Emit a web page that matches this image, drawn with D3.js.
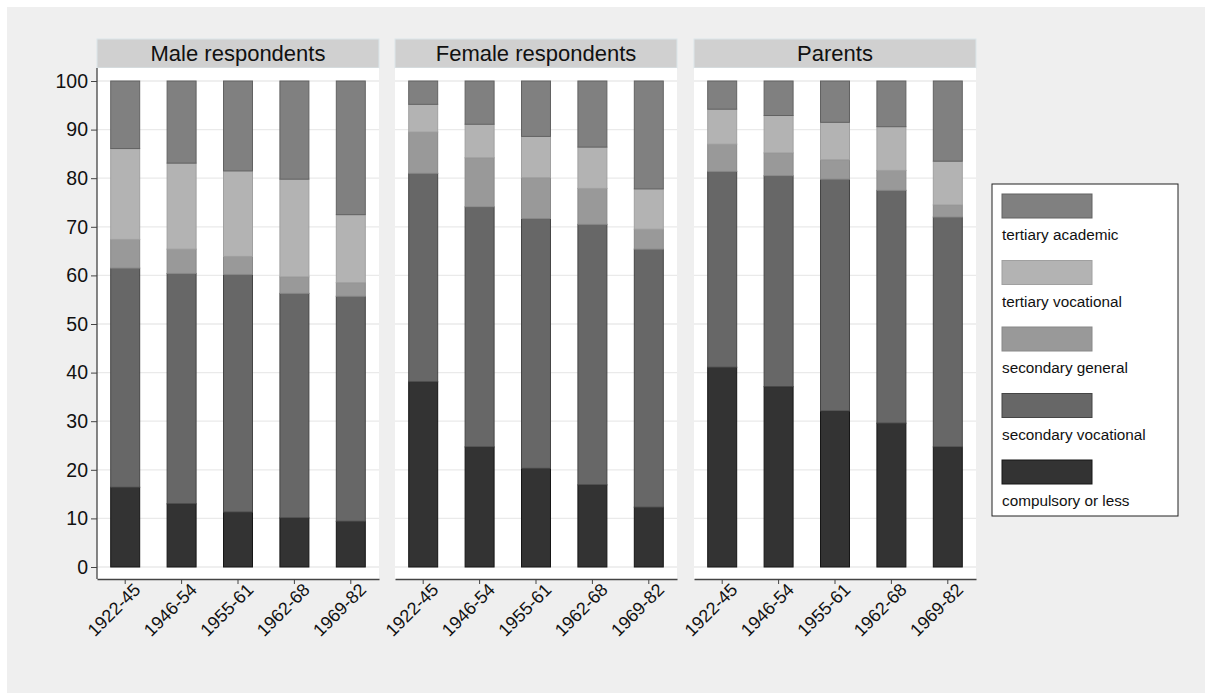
<!DOCTYPE html>
<html lang="en">
<head>
<meta charset="utf-8">
<title>Education by cohort</title>
<script src="https://d3js.org/d3.v7.min.js"></script>
<style>
  body { margin: 0; background: #fff; }
  text { font-family: "Liberation Sans", Arial, Helvetica, sans-serif; fill: #111; }
</style>
</head>
<body>
<script>
// cohorts and panels
var cohorts = ["1922-45", "1946-54", "1955-61", "1962-68", "1969-82"];
var panels = ["Male respondents", "Female respondents", "Parents"];
var levels = ["compulsory or less", "secondary vocational", "secondary general", "tertiary vocational", "tertiary academic"];
var yTicks = [0, 10, 20, 30, 40, 50, 60, 70, 80, 90, 100];

// shares (%) per level, one array per panel
var maleComp     = [16.4, 13.0, 11.3, 10.1, 9.4];
var maleSecVoc   = [45.1, 47.4, 48.9, 46.2, 46.3];
var maleSecGen   = [5.9, 5.0, 3.7, 3.4, 2.8];
var maleTertVoc  = [18.7, 17.7, 17.6, 20.1, 14.0];
var maleTertAcad = [13.9, 16.9, 18.5, 20.2, 27.5];

var femComp     = [38.1, 24.7, 20.3, 16.9, 12.3];
var femSecVoc   = [42.9, 49.4, 51.4, 53.6, 53.1];
var femSecGen   = [8.5, 10.1, 8.4, 7.4, 4.1];
var femTertVoc  = [5.7, 6.9, 8.5, 8.5, 8.3];
var femTertAcad = [4.8, 8.9, 11.4, 13.6, 22.2];

var parComp     = [41.1, 37.1, 32.1, 29.6, 24.7];
var parSecVoc   = [40.3, 43.4, 47.7, 47.9, 47.3];
var parSecGen   = [5.6, 4.7, 4.0, 4.1, 2.5];
var parTertVoc  = [7.2, 7.7, 7.7, 9.0, 9.0];
var parTertAcad = [5.8, 7.1, 8.5, 9.4, 16.5];

var panelSeries = [
  [maleComp, maleSecVoc, maleSecGen, maleTertVoc, maleTertAcad],
  [femComp, femSecVoc, femSecGen, femTertVoc, femTertAcad],
  [parComp, parSecVoc, parSecGen, parTertVoc, parTertAcad]
];

var colors = d3.scaleOrdinal()
  .domain(levels)
  .range(["#333333", "#676767", "#999999", "#b3b3b3", "#808080"]);
var strokes = d3.scaleOrdinal()
  .domain(levels)
  .range(["#161616", "#454545", "#888888", "#a0a0a0", "#626262"]);

var w = 1205, h = 693;
var plotTop = 68, plotBottom = 579;
var panelX = [97, 395, 694];
var panelW = 282;
var stripTop = 39;

var svg = d3.select("body").append("svg")
  .attr("width", w)
  .attr("height", h);

svg.append("rect")
  .attr("x", 7).attr("y", 7)
  .attr("width", w - 7).attr("height", h - 7)
  .attr("fill", "#efefef");

var yScale = d3.scaleLinear().domain([0, 100]).range([567, 81]);

var stack = d3.stack().keys(levels);

panels.forEach(function (name, p) {
  var x0 = panelX[p];
  var g = svg.append("g").attr("transform", `translate(${x0},0)`);

  var xScale = d3.scaleBand()
    .domain(cohorts)
    .range([0, panelW])
    .paddingInner(0.486)
    .paddingOuter(0.243);

  // build rows for stacking
  var rows = cohorts.map(function (c, i) {
    var r = { cohort: c };
    levels.forEach(function (l, k) { r[l] = panelSeries[p][k][i]; });
    return r;
  });
  var series = stack(rows);

  // strip header
  g.append("rect")
    .attr("x", 0).attr("y", stripTop)
    .attr("width", panelW).attr("height", plotTop - stripTop)
    .attr("fill", "#d0d0d0")
    .attr("stroke", "#dbe6ea");
  g.append("text")
    .attr("x", panelW / 2).attr("y", stripTop + 22)
    .attr("text-anchor", "middle")
    .style("font-size", "22px")
    .text(name);

  // plot area
  g.append("rect")
    .attr("x", 0).attr("y", plotTop)
    .attr("width", panelW).attr("height", plotBottom - plotTop)
    .attr("fill", "#fff");

  // gridlines
  g.selectAll(".grid")
    .data(yTicks)
    .enter().append("line")
    .attr("x1", 0).attr("x2", panelW)
    .attr("y1", d => yScale(d)).attr("y2", d => yScale(d))
    .attr("stroke", "#eaeaea")
    .attr("stroke-width", 1.3);

  // bars
  var groups = g.selectAll(".layer")
    .data(series)
    .enter().append("g")
    .attr("fill", d => colors(d.key))
    .attr("stroke", d => strokes(d.key));

  groups.selectAll("rect")
    .data(d => d)
    .enter().append("rect")
    .attr("x", d => xScale(d.data.cohort))
    .attr("y", d => yScale(d[1]))
    .attr("width", xScale.bandwidth())
    .attr("height", d => yScale(d[0]) - yScale(d[1]))
    .attr("stroke-width", 1);

  // x axis
  var xAxis = d3.axisBottom(xScale).tickSize(5).tickSizeOuter(0);
  var xg = g.append("g")
    .attr("transform", `translate(0,${plotBottom})`)
    .call(xAxis);
  xg.select(".domain").attr("stroke", "#444").attr("stroke-width", 1.3);
  xg.selectAll(".tick line").attr("stroke", "#444");
  xg.selectAll(".tick text")
    .style("font-size", "18px")
    .attr("text-anchor", "end")
    .attr("dx", "0.3em")
    .attr("dy", "0.55em")
    .attr("transform", "translate(0,3) rotate(-45)");

  if (p === 0) {
    var yAxis = d3.axisLeft(yScale).tickValues(yTicks).tickSize(6).tickSizeOuter(0);
    var yg = g.append("g").call(yAxis);
    yg.select(".domain").remove();
    g.append("line")
      .attr("x1", 0).attr("x2", 0)
      .attr("y1", plotTop).attr("y2", plotBottom)
      .attr("stroke", "#444").attr("stroke-width", 1.3);
    yg.selectAll(".tick line").attr("stroke", "#444");
    yg.selectAll(".tick text").style("font-size", "19.5px").attr("x", -9);
  }
});

// legend
var legX = 992, legY = 184, legW = 186, legH = 332;
var legend = svg.append("g");
legend.append("rect")
  .attr("x", legX).attr("y", legY)
  .attr("width", legW).attr("height", legH)
  .attr("fill", "#fff")
  .attr("stroke", "#222")
  .attr("stroke-width", 1);

var legOrder = levels.slice().reverse();
var item = legend.selectAll(".item")
  .data(legOrder)
  .enter().append("g")
  .attr("transform", (d, i) => `translate(${legX + 10},${legY + 10 + i * 66.5})`);
item.append("rect")
  .attr("width", 90).attr("height", 24)
  .attr("fill", d => colors(d))
  .attr("stroke", d => strokes(d));
item.append("text")
  .attr("x", 0).attr("y", 46)
  .style("font-size", "15.3px")
  .text(d => d);
</script>
</body>
</html>
